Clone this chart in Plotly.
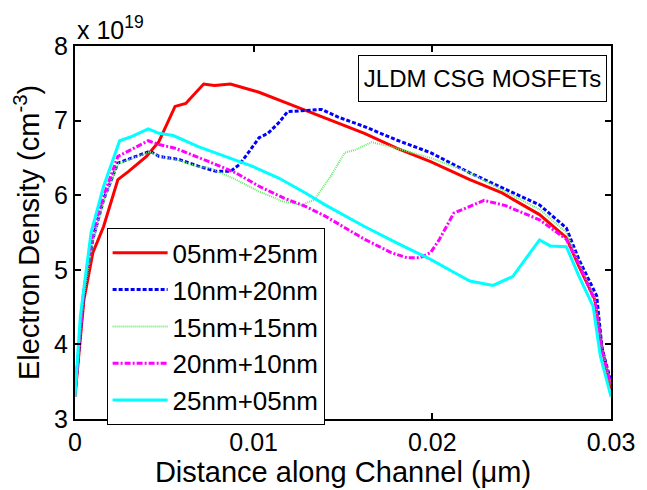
import plotly.graph_objects as go

# ---- data (x in µm, y in units of 1e19 cm^-3) ----
x_05_25 = [0, 0.0005, 0.0010, 0.0016, 0.0024, 0.0030, 0.0040, 0.0047, 0.0056, 0.0062, 0.0072, 0.0078,
           0.0087, 0.0103, 0.0119, 0.0143, 0.0162, 0.0180, 0.0199, 0.0221, 0.0239, 0.0260, 0.0275,
           0.0282, 0.0291, 0.0295, 0.0300]
y_05_25 = [3.30, 4.60, 5.23, 5.58, 6.21, 6.32, 6.52, 6.72, 7.19, 7.23, 7.49, 7.47,
           7.49, 7.38, 7.23, 7.01, 6.83, 6.63, 6.45, 6.21, 6.03, 5.74, 5.43,
           5.05, 4.60, 3.95, 3.40]

x_10_20 = [0, 0.0005, 0.0010, 0.0016, 0.0024, 0.0031, 0.0042, 0.0047, 0.0058, 0.0069, 0.0079, 0.0087,
           0.0092, 0.0097, 0.0103, 0.0108, 0.0114, 0.0119, 0.0129, 0.0138, 0.0147, 0.0162, 0.0180,
           0.0199, 0.0221, 0.0239, 0.0260, 0.0275, 0.0282, 0.0292, 0.0295, 0.0300]
y_10_20 = [3.35, 4.69, 5.41, 5.94, 6.43, 6.49, 6.59, 6.52, 6.48, 6.39, 6.32, 6.32,
           6.41, 6.57, 6.77, 6.83, 6.97, 7.12, 7.14, 7.15, 7.05, 6.92, 6.74,
           6.57, 6.30, 6.10, 5.87, 5.56, 5.14, 4.65, 3.94, 3.50]

x_15_15 = [0, 0.0005, 0.0010, 0.0016, 0.0024, 0.0031, 0.0042, 0.0047, 0.0058, 0.0069, 0.0075, 0.0090,
           0.0103, 0.0116, 0.0127, 0.0134, 0.0143, 0.0151, 0.0157, 0.0166, 0.0177, 0.0199, 0.0219,
           0.0239, 0.0260, 0.0275, 0.0282, 0.0291, 0.0295, 0.0300]
y_15_15 = [3.33, 4.66, 5.38, 5.92, 6.42, 6.48, 6.58, 6.52, 6.47, 6.38, 6.37, 6.21,
           6.05, 5.92, 5.87, 5.94, 6.25, 6.57, 6.61, 6.71, 6.65, 6.50, 6.32,
           6.07, 5.81, 5.50, 5.10, 4.62, 3.94, 3.45]

x_20_10 = [0, 0.0005, 0.0010, 0.0016, 0.0024, 0.0031, 0.0041, 0.0047, 0.0056, 0.0075, 0.0090, 0.0103,
           0.0117, 0.0129, 0.0140, 0.0162, 0.0177, 0.0186, 0.0193, 0.0199, 0.0204, 0.0212, 0.0217,
           0.0229, 0.0241, 0.0260, 0.0275, 0.0282, 0.0291, 0.0295, 0.0300]
y_20_10 = [3.33, 4.75, 5.50, 5.99, 6.52, 6.61, 6.73, 6.68, 6.63, 6.45, 6.30, 6.12,
           5.96, 5.85, 5.72, 5.41, 5.23, 5.16, 5.16, 5.23, 5.41, 5.76, 5.81,
           5.93, 5.86, 5.67, 5.41, 5.08, 4.58, 3.92, 3.45]

x_25_05 = [0, 0.0003, 0.0009, 0.0016, 0.0025, 0.0031, 0.0041, 0.0047, 0.0055, 0.0069, 0.0084, 0.0099,
           0.0114, 0.0129, 0.0140, 0.0162, 0.0180, 0.0199, 0.0214, 0.0221, 0.0234, 0.0245, 0.0252,
           0.0260, 0.0266, 0.0275, 0.0282, 0.0290, 0.0294, 0.0300]
y_25_05 = [3.30, 4.38, 5.50, 6.12, 6.73, 6.78, 6.89, 6.83, 6.80, 6.65, 6.52, 6.39,
           6.23, 6.03, 5.87, 5.58, 5.36, 5.14, 4.94, 4.85, 4.79, 4.91, 5.14,
           5.40, 5.32, 5.31, 4.92, 4.51, 3.85, 3.30]

series_names = ["05nm+25nm", "10nm+20nm", "15nm+15nm", "20nm+10nm", "25nm+05nm"]
x_tick_vals = [0, 0.01, 0.02, 0.03]
x_tick_text = ["0", "0.01", "0.02", "0.03"]
y_tick_vals = [3, 4, 5, 6, 7, 8]

FONT = "Liberation Sans, Arial, Helvetica, sans-serif"

styles = [
    dict(color="#ff0000", width=3, dash="solid"),
    dict(color="#0000ff", width=3, dash="4px,2px"),
    dict(color="#66ee66", width=2, dash="1px,1px"),
    dict(color="#ff00ff", width=3, dash="6px,2px,2px,2px"),
    dict(color="#00ffff", width=3, dash="solid"),
]
xs = [x_05_25, x_10_20, x_15_15, x_20_10, x_25_05]
ys = [y_05_25, y_10_20, y_15_15, y_20_10, y_25_05]

fig = go.Figure()
for name, x, y, st in zip(series_names, xs, ys, styles):
    fig.add_trace(go.Scatter(x=x, y=y, mode="lines", name=name, line=st))

axis_common = dict(
    showline=True, linecolor="black", linewidth=2, mirror="ticks",
    ticks="inside", ticklen=6, tickwidth=1.5, tickcolor="black",
    showgrid=False, zeroline=False,
    tickfont=dict(family=FONT, size=25, color="black"),
)

fig.update_layout(
    width=647, height=490,
    margin=dict(l=75, r=31, t=46, b=70),
    paper_bgcolor="white", plot_bgcolor="white",
    font=dict(family=FONT, color="black"),
    xaxis=dict(range=[0, 0.03], tickvals=x_tick_vals, ticktext=x_tick_text,
               title=dict(text="Distance along Channel (\u03bcm)", font=dict(size=29, family=FONT),
                          standoff=2),
               **axis_common),
    yaxis=dict(range=[3, 8], tickvals=y_tick_vals,
               title=dict(text="Electron Density (cm<sup>-3</sup>)", font=dict(size=29, family=FONT),
                          standoff=6),
               **axis_common),
    legend=dict(x=0.059, y=0.511, xanchor="left", yanchor="top",
                bgcolor="white", bordercolor="black", borderwidth=1,
                font=dict(family=FONT, size=26, color="black"),
                tracegroupgap=0, itemwidth=55),
    showlegend=True,
)

fig.add_annotation(text="x 10<sup>19</sup>", xref="paper", yref="paper", x=0, y=1,
                   xanchor="left", yanchor="bottom", yshift=0, showarrow=False,
                   font=dict(family=FONT, size=25, color="black"))
fig.add_annotation(text="JLDM CSG MOSFETs", xref="paper", yref="paper", x=0.76, y=0.913,
                   xanchor="center", yanchor="middle", showarrow=False,
                   width=243, height=41, borderpad=2,
                   bordercolor="black", borderwidth=1, bgcolor="white",
                   font=dict(family=FONT, size=24, color="black"))

fig.write_html("out.html")
